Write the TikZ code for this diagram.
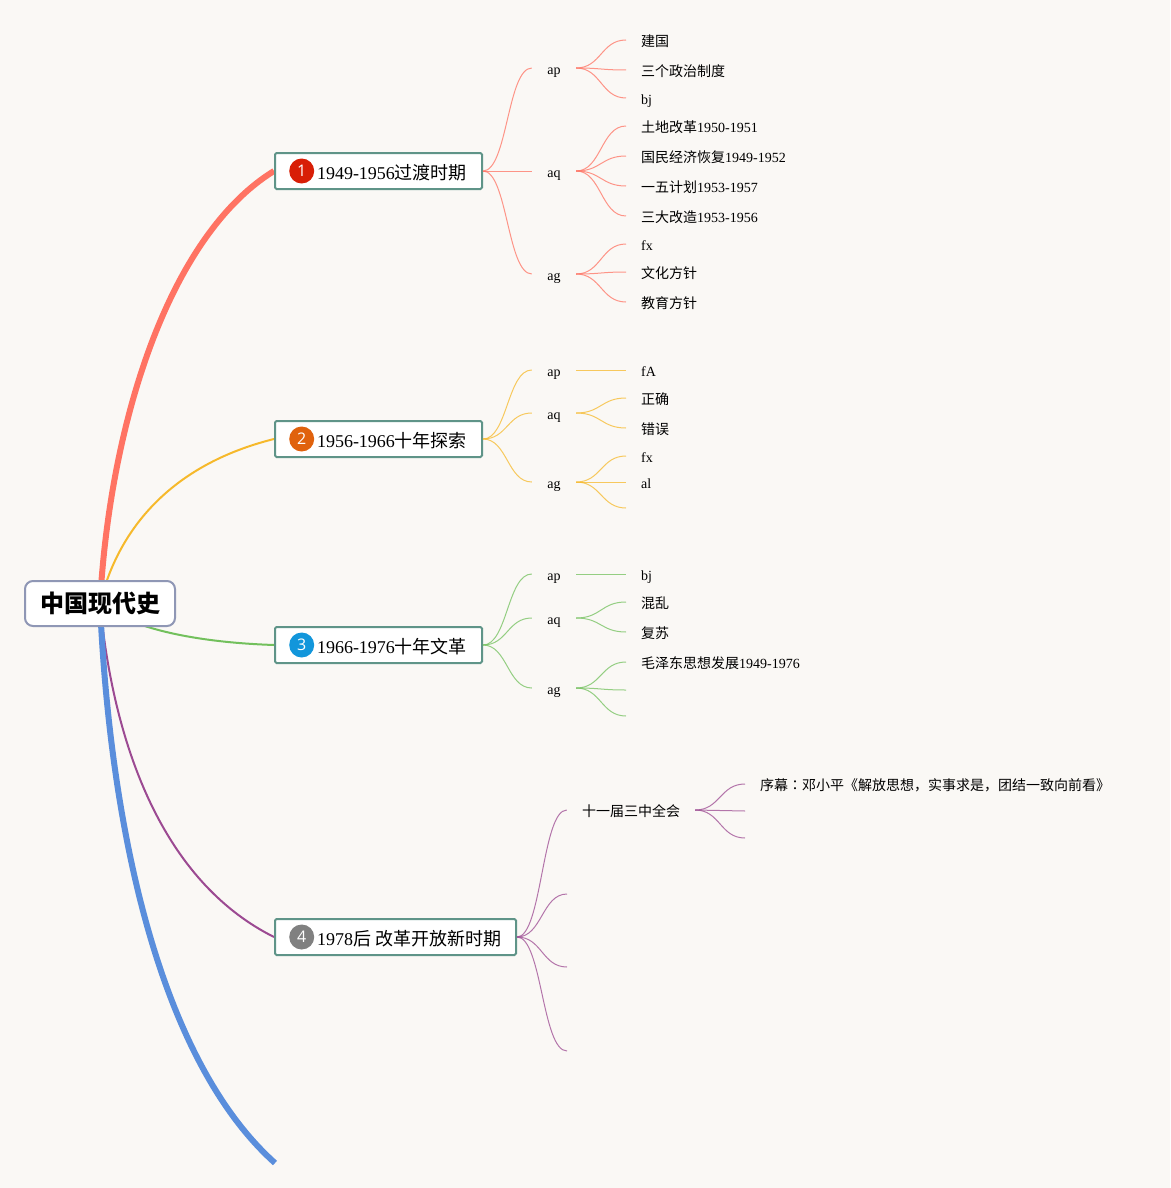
\documentclass[tikz,border=0pt]{standalone}
\usepackage{fontspec}
\setmainfont{Liberation Serif}
\setsansfont{Open Sans}
\newfontfamily\cjk{Noto Sans CJK SC}
\newfontfamily\cjktc{Noto Sans CJK TC}
\newcommand{\zh}[1]{{\cjk #1}}
\usetikzlibrary{positioning,calc,backgrounds}
\definecolor{paper}{HTML}{FAF8F5}
\definecolor{boxline}{HTML}{5F9488}
\definecolor{rootline}{HTML}{8F97B5}
\definecolor{redline}{HTML}{FF7363}
\definecolor{yellowline}{HTML}{F6B92B}
\definecolor{greenline}{HTML}{72C05C}
\definecolor{purpleline}{HTML}{9C4A92}
\definecolor{blueline}{HTML}{5A8EDC}
\definecolor{badgered}{HTML}{D81E06}
\definecolor{badgeorange}{HTML}{E0620D}
\definecolor{badgeblue}{HTML}{1296DB}
\definecolor{badgegrey}{HTML}{808080}
\tikzset{
    root/.style={draw=rootline,line width=2pt,fill=white,rounded corners=8pt,
        minimum width=150pt,minimum height=45pt,inner sep=0pt,
        font=\fontsize{24}{28}\selectfont\cjk\bfseries},
    stage/.style={draw=boxline,line width=2pt,fill=white,rounded corners=1.5pt,anchor=west,
        minimum height=36pt,inner xsep=15pt,inner ysep=0pt,text height=16pt,text depth=0pt,
        font=\fontsize{18}{22}\selectfont},
    badge/.style={circle,minimum size=25pt,inner sep=0pt,text=white,
        font=\fontsize{16}{20}\selectfont\sffamily},
    topic/.style={minimum width=44pt,inner sep=0pt,text height=13pt,text depth=0pt,
        font=\fontsize{14}{16}\selectfont},
    leaf/.style={anchor=west,inner xsep=15pt,inner ysep=0pt,text height=13pt,text depth=0pt,
        font=\fontsize{14}{16}\selectfont},
    twig/.style={line width=1pt,opacity=0.75,to path={
        .. controls ($(\tikztostart)!0.5!(\tikztotarget |- \tikztostart)$)
        and ($(\tikztotarget)!0.5!(\tikztostart |- \tikztotarget)$) .. (\tikztotarget)}},
}
\begin{document}
\begin{tikzpicture}[x=1pt,y=-1pt]
    \useasboundingbox (0,0) rectangle (1170,1188);
    % centre and stages
    \node[root] (history) at (100,603.5) {中国现代史};
    \node[stage] (s1) at (274,171) {\hspace*{27pt}1949-1956\zh{过渡时期}};
    \node[stage] (s2) at (274,439) {\hspace*{27pt}1956-1966\zh{十年探索}};
    \node[stage] (s3) at (274,645) {\hspace*{27pt}1966-1976\zh{十年文革}};
    \node[stage] (s4) at (274,937) {\hspace*{27pt}1978\zh{后 改革开放新时期}};
    \node[badge,fill=badgered,right=15pt of s1.west] (n1) {1};
    \node[badge,fill=badgeorange,right=15pt of s2.west] (n2) {2};
    \node[badge,fill=badgeblue,right=15pt of s3.west] (n3) {3};
    \node[badge,fill=badgegrey,right=15pt of s4.west] (n4) {4};
    \coordinate (s5) at (275,1163);

    % stage 1
    \node[topic] (p1) at (554,68) {ap};
    \node[topic] (q1) at (554,171) {aq};
    \node[topic] (g1) at (554,274) {ag};
    \node[leaf] (p1a) at (626,40) {\zh{建国}};
    \node[leaf] (p1b) at (626,70) {\zh{三个政治制度}};
    \node[leaf] (p1c) at (626,98) {bj};
    \node[leaf] (q1a) at (626,126) {\zh{土地改革}1950-1951};
    \node[leaf] (q1b) at (626,156) {\zh{国民经济恢复}1949-1952};
    \node[leaf] (q1c) at (626,186) {\zh{一五计划}1953-1957};
    \node[leaf] (q1d) at (626,216) {\zh{三大改造}1953-1956};
    \node[leaf] (g1a) at (626,244) {fx};
    \node[leaf] (g1b) at (626,272) {\zh{文化方针}};
    \node[leaf] (g1c) at (626,302) {\zh{教育方针}};

    % stage 2
    \node[topic] (p2) at (554,370) {ap};
    \node[topic] (q2) at (554,413) {aq};
    \node[topic] (g2) at (554,482) {ag};
    \node[leaf] (p2a) at (626,370) {fA};
    \node[leaf] (q2a) at (626,398) {\zh{正确}};
    \node[leaf] (q2b) at (626,428) {\zh{错误}};
    \node[leaf] (g2a) at (626,456) {fx};
    \node[leaf] (g2b) at (626,482) {al};
    \coordinate (g2c) at (626,508);

    % stage 3
    \node[topic] (p3) at (554,574) {ap};
    \node[topic] (q3) at (554,618) {aq};
    \node[topic] (g3) at (554,688) {ag};
    \node[leaf] (p3a) at (626,574) {bj};
    \node[leaf] (q3a) at (626,602) {\zh{混乱}};
    \node[leaf] (q3b) at (626,632) {\zh{复苏}};
    \node[leaf] (g3a) at (626,662) {\zh{毛泽东思想发展}1949-1976};
    \coordinate (g3b) at (626,690);
    \coordinate (g3c) at (626,716);

    % stage 4
    \node[topic,minimum width=128pt] (plenum) at (631,810) {\zh{十一届三中全会}};
    \coordinate (t4b) at (567,894);
    \coordinate (t4c) at (567,967);
    \coordinate (t4d) at (567,1051);
    \node[leaf] (deng) at (745,784) {\zh{序幕}{\cjktc ：}\zh{邓小平《解放思想，实事求是，团结一致向前看》}};
    \coordinate (deng2) at (745,811);
    \coordinate (deng3) at (745,838);

    \begin{scope}[on background layer]
        \fill[paper] (0,0) rectangle (1170,1188);
        \draw[redline,line width=6pt] (history.center) .. controls (110,420) and (170,235) .. (s1.west);
        \draw[yellowline,line width=2pt] (history.center) .. controls (118,530) and (170,465) .. (s2.west);
        \draw[greenline,line width=2pt] (history.center) .. controls (125,625) and (185,642) .. (s3.west);
        \draw[purpleline,line width=2pt] (history.center) .. controls (115,760) and (170,885) .. (s4.west);
        \draw[blueline,line width=6pt] (history.center) .. controls (110,830) and (160,1060) .. (s5);
    \end{scope}

    \foreach \a/\b in {s1.east/p1.west,s1.east/q1.west,s1.east/g1.west,
        p1.east/p1a.west,p1.east/p1b.west,p1.east/p1c.west,
        q1.east/q1a.west,q1.east/q1b.west,q1.east/q1c.west,q1.east/q1d.west,
        g1.east/g1a.west,g1.east/g1b.west,g1.east/g1c.west}
        \draw[redline,twig] (\a) to (\b);
    \foreach \a/\b in {s2.east/p2.west,s2.east/q2.west,s2.east/g2.west,
        p2.east/p2a.west,q2.east/q2a.west,q2.east/q2b.west,
        g2.east/g2a.west,g2.east/g2b.west,g2.east/g2c}
        \draw[yellowline,twig] (\a) to (\b);
    \foreach \a/\b in {s3.east/p3.west,s3.east/q3.west,s3.east/g3.west,
        p3.east/p3a.west,q3.east/q3a.west,q3.east/q3b.west,
        g3.east/g3a.west,g3.east/g3b,g3.east/g3c}
        \draw[greenline,twig] (\a) to (\b);
    \foreach \a/\b in {s4.east/plenum.west,s4.east/t4b,s4.east/t4c,s4.east/t4d,
        plenum.east/deng.west,plenum.east/deng2,plenum.east/deng3}
        \draw[purpleline,twig] (\a) to (\b);
\end{tikzpicture}
\end{document}
